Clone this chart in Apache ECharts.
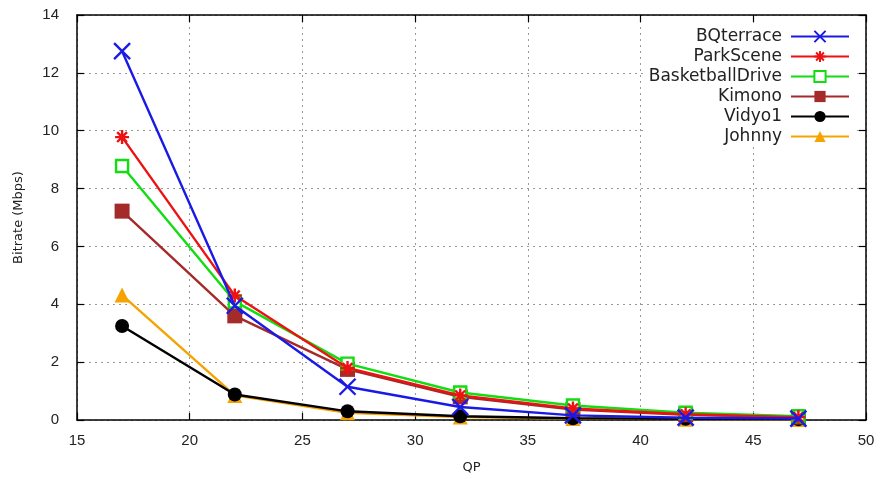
<!DOCTYPE html>
<html>
<head>
<meta charset="utf-8">
<script src="https://cdn.jsdelivr.net/npm/echarts@6/dist/echarts.min.js"></script>
<style>
html,body{margin:0;padding:0;background:#fff;}
#chart{width:882px;height:479px;}
</style>
</head>
<body>
<div id="chart"></div>
<script>
// QP values shared by every sequence
const qp = [17, 22, 27, 32, 37, 42, 47];

// Bitrate (Mbps) per test sequence
const bqterrace       = [12.75, 3.95, 1.15, 0.45, 0.16, 0.08, 0.05];
const parkScene       = [9.78, 4.3, 1.8, 0.85, 0.4, 0.2, 0.1];
const basketballDrive = [8.78, 4.1, 1.95, 0.95, 0.5, 0.25, 0.13];
const kimono          = [7.22, 3.6, 1.75, 0.8, 0.36, 0.18, 0.1];
const vidyo1          = [3.25, 0.88, 0.3, 0.13, 0.06, 0.04, 0.03];
const johnny          = [4.32, 0.85, 0.25, 0.1, 0.05, 0.03, 0.02];

const seriesNames = ['BQterrace', 'ParkScene', 'BasketballDrive', 'Kimono', 'Vidyo1', 'Johnny'];

const xTicks = { min: 15, max: 50, interval: 5 };
const yTicks = { min: 0, max: 14, interval: 2 };

const crossPath = 'path://M0,0L10,10M10,0L0,10';
const starPath = 'path://M5,0L5,10M0,5L10,5M1.5,1.5L8.5,8.5M8.5,1.5L1.5,8.5';

function pairs(ys) { return qp.map((q, i) => [q, ys[i]]); }

const styles = [
  { data: bqterrace, color: '#1a1ae6', symbol: crossPath, size: 16, stroke: true },
  { data: parkScene, color: '#ee1111', symbol: starPath, size: 14, stroke: true },
  { data: basketballDrive, color: '#11dd11', symbol: 'rect', size: 12, hollow: true },
  { data: kimono, color: '#a52a2a', symbol: 'rect', size: 15 },
  { data: vidyo1, color: '#000000', symbol: 'circle', size: 14 },
  { data: johnny, color: '#f5a300', symbol: 'triangle', size: 15 }
];

const series = styles.map((s, i) => {
  const itemStyle = { color: s.color };
  if (s.stroke) {
    itemStyle.borderColor = s.color;
    itemStyle.borderWidth = 2.4;
  }
  if (s.hollow) {
    itemStyle.color = '#ffffff';
    itemStyle.borderColor = s.color;
    itemStyle.borderWidth = 2.4;
  }
  return {
    name: seriesNames[i],
    type: 'line',
    data: pairs(s.data),
    symbol: s.symbol,
    symbolSize: s.size,
    showAllSymbol: true,
    lineStyle: { color: s.color, width: 2.4 },
    itemStyle: itemStyle,
    emphasis: { disabled: true },
    z: 10 - i
  };
});

const labelFont = { fontFamily: 'Liberation Sans, Arial, sans-serif', fontSize: 15, color: '#222' };
const gridLine = { show: true, lineStyle: { color: '#999', type: [2, 4], width: 1 } };
const axisLine = { show: true, onZero: false, lineStyle: { color: '#000', width: 1.5 } };
const innerTick = { show: true, inside: true, length: 7, lineStyle: { color: '#000', width: 1.2 } };

const chart = echarts.init(document.getElementById('chart'), null, { renderer: 'canvas' });
chart.setOption({
  animation: false,
  backgroundColor: '#fff',
  grid: { left: 77, right: 16, top: 15, bottom: 58 },
  xAxis: [
    {
      type: 'value', position: 'bottom',
      min: xTicks.min, max: xTicks.max, interval: xTicks.interval,
      name: 'QP', nameLocation: 'middle', nameGap: 41,
      nameTextStyle: { fontFamily: 'DejaVu Sans, sans-serif', fontSize: 13, color: '#222' },
      axisLine: axisLine, axisTick: innerTick, splitLine: gridLine,
      axisLabel: Object.assign({ margin: 13 }, labelFont)
    },
    {
      type: 'value', position: 'top',
      min: xTicks.min, max: xTicks.max, interval: xTicks.interval,
      axisLine: axisLine, axisTick: innerTick, splitLine: { show: false },
      axisLabel: { show: false }
    }
  ],
  yAxis: [
    {
      type: 'value', position: 'left',
      min: yTicks.min, max: yTicks.max, interval: yTicks.interval,
      name: 'Bitrate (Mbps)', nameLocation: 'middle', nameGap: 52,
      nameTextStyle: { fontFamily: 'DejaVu Sans, sans-serif', fontSize: 13, color: '#222' },
      axisLine: axisLine, axisTick: innerTick, splitLine: gridLine,
      axisLabel: Object.assign({ margin: 18 }, labelFont)
    },
    {
      type: 'value', position: 'right',
      min: yTicks.min, max: yTicks.max, interval: yTicks.interval,
      axisLine: axisLine, axisTick: innerTick, splitLine: { show: false },
      axisLabel: { show: false }
    }
  ],
  legend: {
    orient: 'vertical',
    right: 28, top: 26,
    align: 'right',
    itemWidth: 58, itemHeight: 14, itemGap: 3,
    padding: [2, 4, 2, 4],
    backgroundColor: '#fff',
    textStyle: { fontFamily: 'DejaVu Sans, sans-serif', fontSize: 17, color: '#222', padding: [0, 4, 0, 0] },
    data: seriesNames
  },
  series: series
});
</script>
</body>
</html>
